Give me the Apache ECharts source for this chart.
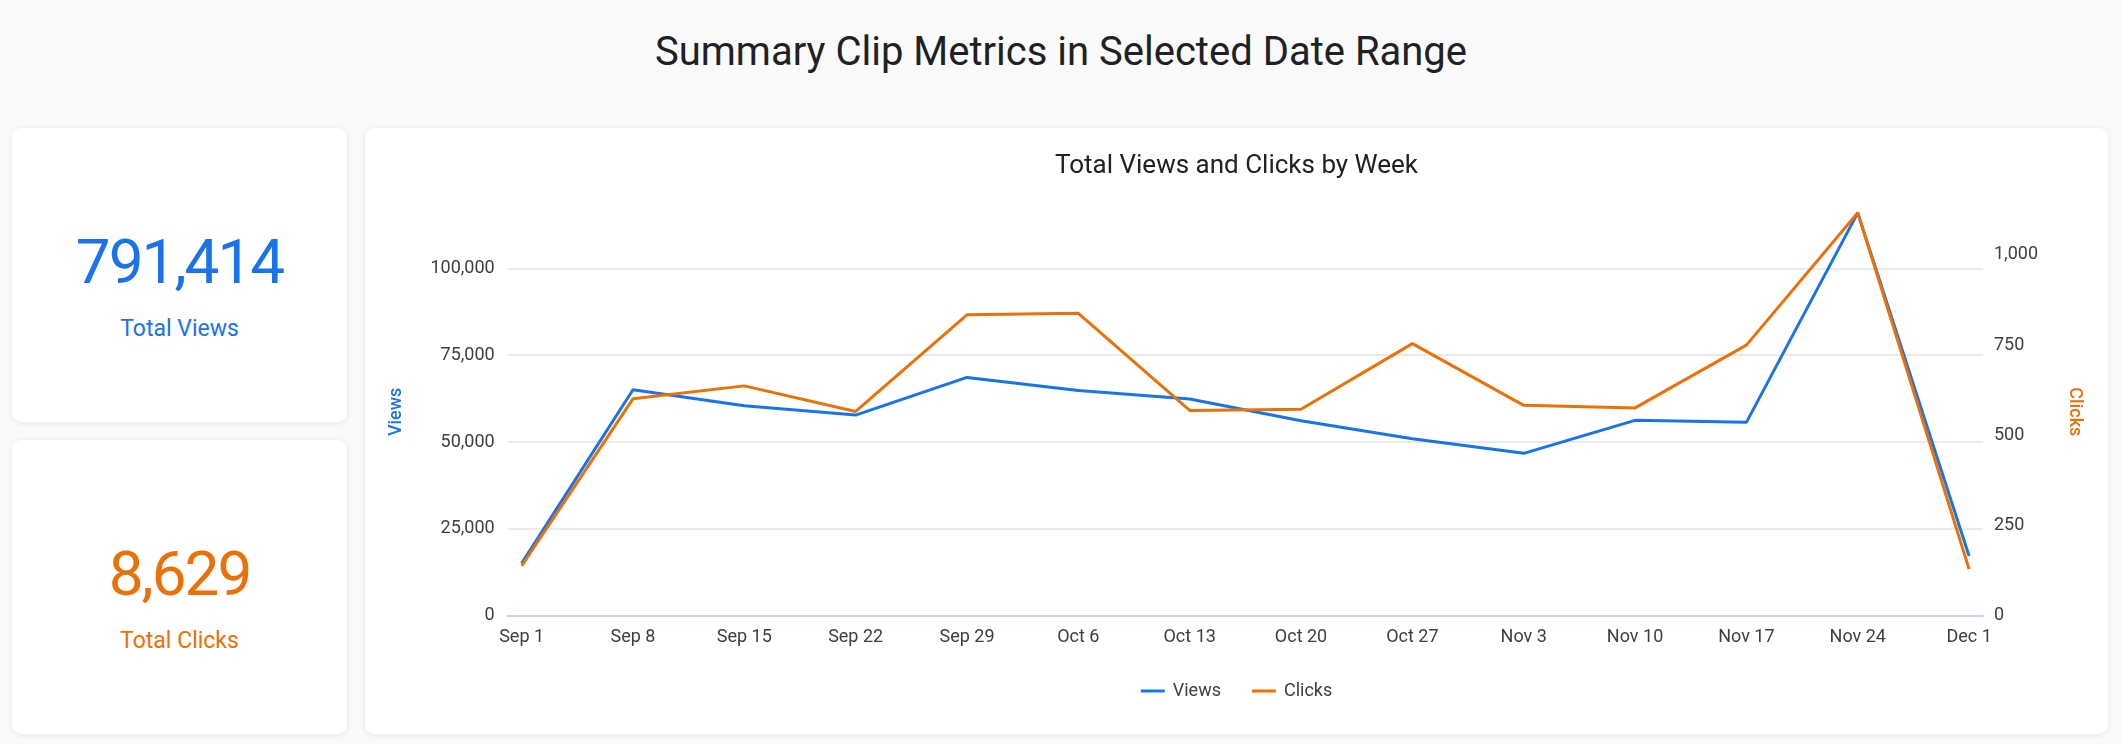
<!DOCTYPE html>
<html>
<head>
<meta charset="utf-8">
<script src="https://cdn.jsdelivr.net/npm/echarts@6/dist/echarts.min.js"></script>
<style>
  html, body { margin:0; padding:0; width:2122px; height:744px; background:#fafafa; overflow:hidden; font-family: Roboto, "Noto Sans", sans-serif; }
  .card { position:absolute; background:#fff; border-radius:9px; box-shadow:0 1px 6px rgba(0,0,0,0.09); }
  .t { position:absolute; left:0; right:0; text-align:center; line-height:1; white-space:nowrap; }
  #title { position:absolute; left:0; width:2122px; top:32px; text-align:center; font-size:40px; line-height:1; color:#202124; }
  #chart { position:absolute; left:365px; top:128px; width:1743px; height:606px; }
</style>
</head>
<body>
<div id="title">Summary Clip Metrics in Selected Date Range</div>
<div class="card" style="left:12px;top:128px;width:335px;height:294px;">
  <div class="t" id="v1" style="top:103px;font-size:62px;color:#1a73e8;letter-spacing:-2px;"></div>
  <div class="t" style="top:189px;font-size:23px;color:#1a73e8;">Total Views</div>
</div>
<div class="card" style="left:12px;top:440px;width:335px;height:294px;">
  <div class="t" id="v2" style="top:103px;font-size:62px;color:#e8710a;letter-spacing:-2px;"></div>
  <div class="t" style="top:189px;font-size:23px;color:#e8710a;">Total Clicks</div>
</div>
<div class="card" style="left:365px;top:128px;width:1743px;height:606px;"></div>
<div id="chart"></div>
<script>
const weeks = ['Sep 1','Sep 8','Sep 15','Sep 22','Sep 29','Oct 6','Oct 13','Oct 20','Oct 27','Nov 3','Nov 10','Nov 17','Nov 24','Dec 1'];
const views = [15080,65050,60450,57770,68620,64880,62380,56130,50950,46750,56250,55670,116000,17180];
const clicks = [138,601,637,566,834,838,569,572,754,583,576,750,1117,129];
const viewTicks = [0,25000,50000,75000,100000];
const clickTicks = [0,250,500,750,1000];
const totalViews = 791414;
const totalClicks = 8629;

document.getElementById('v1').textContent = totalViews.toLocaleString('en-US');
document.getElementById('v2').textContent = totalClicks.toLocaleString('en-US');

const fmt = v => Number(v).toLocaleString('en-US');
const labelStyle = { color:'#3c4043', fontSize:18, fontFamily:'Roboto' };
const weekIdx = weeks.map((w,i)=>i);

const chart = echarts.init(document.getElementById('chart'), null, { renderer:'canvas' });
chart.setOption({
  animation:false,
  backgroundColor:'transparent',
  title:{ text:'Total Views and Clicks by Week', left:'center', top:20,
    textStyle:{ fontSize:26, fontWeight:'normal', color:'#202124', fontFamily:'Roboto' } },
  legend:{ top:549, left:'center', itemWidth:24, itemHeight:3, itemGap:31, icon:'rect',
    textStyle:{ color:'#3c4043', fontSize:18, fontFamily:'Roboto', padding:[0,0,0,3] },
    data:['Views','Clicks'] },
  grid:{ left:142.7, right:125, top:80, bottom:118.3, containLabel:false },
  xAxis:{ type:'value', min:-0.125, max:weeks.length - 1 + 0.125,
    axisLine:{ show:true, lineStyle:{ color:'#c8d3e8', width:2 } },
    axisTick:{ show:false, customValues:weekIdx },
    splitLine:{ show:false },
    axisLabel:{ ...labelStyle, margin:13, customValues:weekIdx,
      formatter:v => Number.isInteger(v) ? weeks[v] : '' } },
  yAxis:[
    { type:'value', min:0, max:117400, position:'left',
      name:'Views', nameLocation:'middle', nameRotate:90, nameGap:102,
      nameTextStyle:{ color:'#1a73e8', fontSize:18, fontFamily:'Roboto', fontWeight:500 },
      axisLine:{ show:false }, axisTick:{ show:false, customValues:viewTicks },
      splitLine:{ show:true, lineStyle:{ color:'#e3e3e3', width:1.5 } },
      axisLabel:{ ...labelStyle, margin:13, customValues:viewTicks, formatter:fmt } },
    { type:'value', min:0, max:1130, position:'right',
      name:'Clicks', nameLocation:'middle', nameRotate:-90, nameGap:82,
      nameTextStyle:{ color:'#e8710a', fontSize:18, fontFamily:'Roboto', fontWeight:500 },
      axisLine:{ show:false }, axisTick:{ show:false, customValues:clickTicks },
      splitLine:{ show:false },
      axisLabel:{ ...labelStyle, margin:11, customValues:clickTicks, formatter:fmt } }
  ],
  series:[
    { name:'Views', type:'line', yAxisIndex:0, symbol:'none', color:'#1a73e8',
      lineStyle:{ width:3, color:'#1a73e8' }, data:views.map((v,i)=>[i,v]) },
    { name:'Clicks', type:'line', yAxisIndex:1, symbol:'none', color:'#e8710a',
      lineStyle:{ width:3, color:'#e8710a' }, data:clicks.map((v,i)=>[i,v]) }
  ]
});
</script>
</body>
</html>
